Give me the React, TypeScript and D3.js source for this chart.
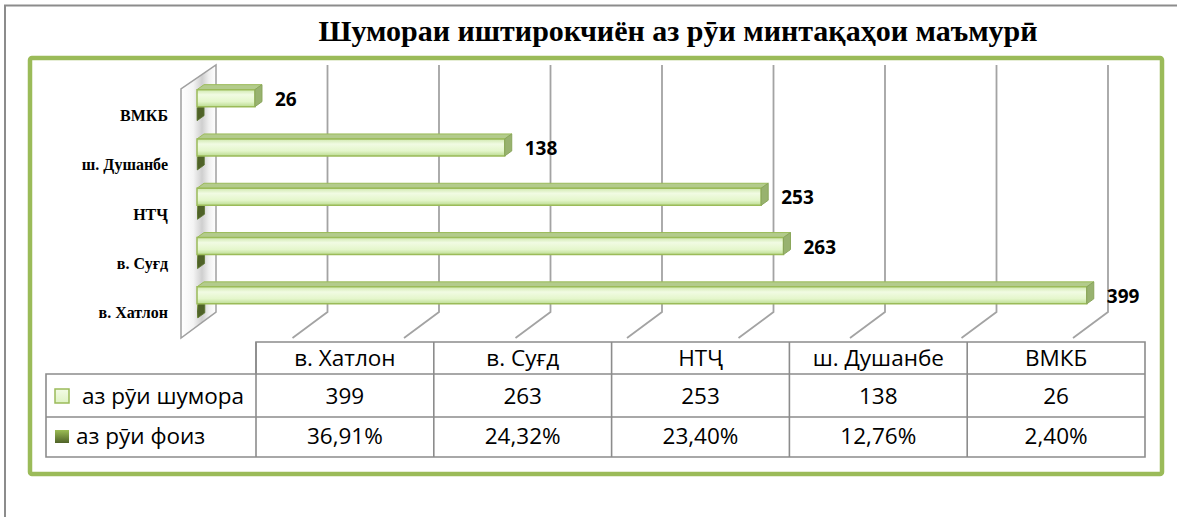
import React from "react";
import * as d3 from "d3";

const title = "Шумораи иштирокчиён аз рӯи минтақаҳои маъмурӣ";
const categories = ["в. Хатлон", "в. Суғд", "НТҶ", "ш. Душанбе", "ВМКБ"];
const countValues = [399, 263, 253, 138, 26];
const percentValues = [36.91, 24.32, 23.4, 12.76, 2.4];
const percentLabels = ["36,91%", "24,32%", "23,40%", "12,76%", "2,40%"];
const seriesNames = ["аз рӯи шумора", "аз рӯи фоиз"];
const valueTicks = [0, 50, 100, 150, 200, 250, 300, 350, 400];

const W = 1177;
const H = 517;
const serif = "'Liberation Serif', 'Times New Roman', 'DejaVu Serif', serif";
const sans = "'Open Sans', 'Noto Sans', sans-serif";

export default function App() {
  const xBack = d3.scaleLinear().domain([0, 400]).range([216, 1108]);
  const xBar = d3.scaleLinear().domain([0, 400]).range([197, 1089]);
  const backTop = 65;
  const backBottom = 312;
  const depth = { dx: -35, dy: 26 };
  const barDepth = { dx: 7, dy: -5 };

  const yCat = d3
    .scaleBand<string>()
    .domain([...categories].reverse())
    .range([91, 337.5])
    .padding(0);

  const xCol = d3.scaleBand<string>().domain(categories).range([256, 1145]).padding(0);
  const headerTop = 342;
  const row1Top = 374;
  const row2Top = 417;
  const tableBottom = 457;
  const tableLeft = 46;

  const barPath = (x0: number, x1: number, yt: number, yb: number) => ({
    front: `M${x0},${yt}H${x1}V${yb}H${x0}Z`,
    top: `M${x0},${yt}L${x0 + barDepth.dx},${yt + barDepth.dy}H${x1 + barDepth.dx}L${x1},${yt}Z`,
    end: `M${x1},${yt}L${x1 + barDepth.dx},${yt + barDepth.dy}V${yb + barDepth.dy}L${x1},${yb}Z`,
  });

  const lineColor = "#8c8c8c";

  return (
    <svg width={W} height={H} style={{ display: "block", position: "absolute", left: 0, top: 0 }}>
      <defs>
        <linearGradient id="lightFront" x1="0" y1="0" x2="0" y2="1">
          <stop offset="0%" stopColor="#cfe8ad" />
          <stop offset="30%" stopColor="#f1fbe3" />
          <stop offset="70%" stopColor="#e4f6cb" />
          <stop offset="100%" stopColor="#bcdc92" />
        </linearGradient>
        <linearGradient id="darkFront" x1="0" y1="0" x2="0" y2="1">
          <stop offset="0%" stopColor="#8fb04a" />
          <stop offset="50%" stopColor="#4f6228" />
          <stop offset="100%" stopColor="#6d8a34" />
        </linearGradient>
        <linearGradient id="darkKey" x1="0" y1="0" x2="0" y2="1">
          <stop offset="0%" stopColor="#9cbd55" />
          <stop offset="100%" stopColor="#4f6228" />
        </linearGradient>
        <linearGradient id="lightKey" x1="0" y1="0" x2="0" y2="1">
          <stop offset="0%" stopColor="#f3fbe6" />
          <stop offset="100%" stopColor="#dff3c4" />
        </linearGradient>
        <linearGradient id="wallGrad" x1="0" y1="0" x2="1" y2="0">
          <stop offset="0%" stopColor="#ffffff" />
          <stop offset="35%" stopColor="#f4f4f4" />
          <stop offset="60%" stopColor="#cfcfcf" />
          <stop offset="80%" stopColor="#f0f0f0" />
          <stop offset="100%" stopColor="#ffffff" />
        </linearGradient>
      </defs>

      <path d={`M5,${H}V5.5H${W}`} fill="none" stroke="#8c8c8c" strokeWidth={2} />

      <text x={678} y={41} textAnchor="middle" fontFamily={serif} fontWeight="bold" fontSize={30} fill="#000">
        {title}
      </text>

      <rect x={30} y={58} width={1132} height={416} rx={2} fill="#fff" stroke="#9bbb59" strokeWidth={4.5} />

      <path
        d={`M${xBack(0)},${backTop}V${backBottom}L${xBack(0) + depth.dx},${backBottom + depth.dy}V${backTop + depth.dy - 2}Z`}
        fill="url(#wallGrad)"
        stroke="#a0a0a0"
        strokeWidth={1.5}
      />

      {valueTicks.slice(1).map((t) => (
        <path
          key={t}
          d={`M${xBack(t)},${backTop}V${backBottom}L${xBack(t) + depth.dx},${backBottom + depth.dy}`}
          fill="none"
          stroke="#a3a3a3"
          strokeWidth={1.8}
        />
      ))}

      {categories.map((c, i) => {
        const cy = (yCat(c) as number) + yCat.bandwidth() / 2;
        const dark = barPath(xBar(0), xBar(percentValues[i] / 100), cy - 8, cy + 5);
        const light = barPath(xBar(0), xBar(countValues[i]), cy - 26, cy - 9);
        return (
          <g key={c}>
            <path d={dark.top} fill="#6f8c36" />
            <path d={dark.end} fill="#4f6228" stroke="#5b7330" strokeWidth={0.8} />
            <path d={dark.front} fill="url(#darkFront)" />
            <path d={light.top} fill="#b3cb8c" stroke="#9bbb59" strokeWidth={1} />
            <path d={light.front} fill="url(#lightFront)" stroke="#9bbb59" strokeWidth={1.5} />
            <path d={light.end} fill="#98b26f" stroke="#8aa65c" strokeWidth={1} />
            <text
              x={xBar(countValues[i]) + barDepth.dx + 13}
              y={cy - 17}
              dominantBaseline="central"
              fontFamily={sans}
              fontWeight="bold"
              fontSize={19}
              fill="#000"
            >
              {countValues[i]}
            </text>
            <text
              x={168}
              y={cy}
              textAnchor="end"
              dominantBaseline="central"
              fontFamily={serif}
              fontWeight="bold"
              fontSize={16}
              fill="#000"
            >
              {c}
            </text>
          </g>
        );
      })}

      <g fontFamily={sans} fontSize={22.5} fill="#000">
        <path
          d={`M${xCol.range()[0]},${row1Top}V${headerTop}H${xCol.range()[1]}V${tableBottom}H${tableLeft}V${row1Top}H${xCol.range()[1]}M${tableLeft},${row2Top}H${xCol.range()[1]}`}
          fill="none"
          stroke={lineColor}
          strokeWidth={1.6}
        />
        {categories.map((c) => (
          <path key={"l" + c} d={`M${xCol(c) as number},${headerTop}V${tableBottom}`} stroke={lineColor} strokeWidth={1.6} />
        ))}
        {categories.map((c, i) => {
          const cx = (xCol(c) as number) + xCol.bandwidth() / 2;
          return (
            <g key={"t" + c} textAnchor="middle">
              <text x={cx} y={(headerTop + row1Top) / 2 + 8}>{c}</text>
              <text x={cx} y={(row1Top + row2Top) / 2 + 8.5}>{countValues[i]}</text>
              <text x={cx} y={(row2Top + tableBottom) / 2 + 7}>{percentLabels[i]}</text>
            </g>
          );
        })}
        <rect x={55} y={389} width={14} height={14} fill="url(#lightKey)" stroke="#9bbb59" strokeWidth={1.5} />
        <text x={82} y={(row1Top + row2Top) / 2 + 8.5}>{seriesNames[0]}</text>
        <rect x={55} y={430} width={14} height={13} fill="url(#darkKey)" />
        <text x={76} y={(row2Top + tableBottom) / 2 + 7}>{seriesNames[1]}</text>
      </g>
    </svg>
  );
}
